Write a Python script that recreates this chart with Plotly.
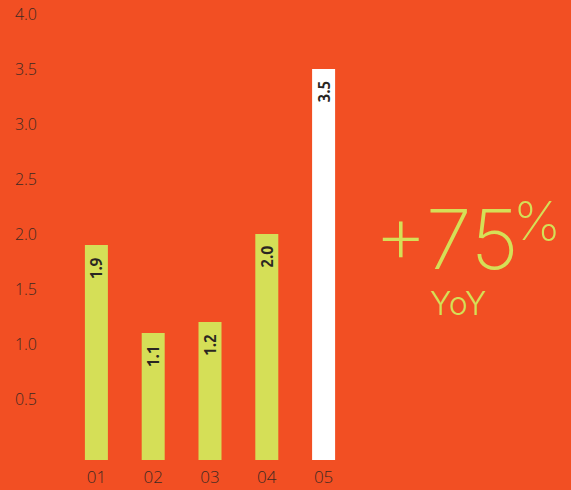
import plotly.graph_objects as go

# Data
periods = ["01", "02", "03", "04", "05"]
values = [1.9, 1.1, 1.2, 2.0, 3.5]
bar_colors = ["#D5DF57", "#D5DF57", "#D5DF57", "#D5DF57", "#FFFFFF"]
y_ticks = [0.5, 1.0, 1.5, 2.0, 2.5, 3.0, 3.5, 4.0]
y_tick_text = ["0.5", "1.0", "1.5", "2.0", "2.5", "3.0", "3.5", "4.0"]
headline = "+75"
headline_unit = "%"
headline_caption = "YoY"

BG = "#F24F23"
ACCENT = "#D5DF57"
TICK_COLOR = "#3d2a22"
LABEL_COLOR = "#2a2622"

# The value axis starts a little below zero so the bars sit on a small foot
Y_FLOOR = -0.055
Y_CEIL = 4.0

fig = go.Figure()
fig.add_trace(go.Bar(
    x=periods,
    y=[v - Y_FLOOR for v in values],
    base=Y_FLOOR,
    marker=dict(color=bar_colors, line=dict(width=0)),
    hoverinfo="skip",
))

# Rotated value labels just inside the top of each bar
# (category axis: position by category index so "01" is not read as a number)
for i, v in enumerate(values):
    fig.add_annotation(
        x=i, y=v, xref="x", yref="y",
        text=f"<b>{v:.1f}</b>",
        textangle=-90,
        showarrow=False,
        yanchor="top", xanchor="center",
        yshift=-10,
        font=dict(family="Ubuntu, 'Open Sans', sans-serif", size=16, color=LABEL_COLOR),
    )

# Headline figure to the right of the bars
fig.add_annotation(
    x=1.331, y=0.495, xref="paper", yref="paper",
    text=headline, showarrow=False, xanchor="center", yanchor="middle",
    font=dict(family="Inter", size=83, color=ACCENT, weight=200),
)
fig.add_annotation(
    x=1.651, y=0.538, xref="paper", yref="paper",
    text=headline_unit, showarrow=False, xanchor="center", yanchor="middle",
    font=dict(family="Inter", size=54, color=ACCENT, weight=200),
)
fig.add_annotation(
    x=1.373, y=0.352, xref="paper", yref="paper",
    text=headline_caption, showarrow=False, xanchor="center", yanchor="middle",
    font=dict(family="Inter", size=32, color=ACCENT, weight=300),
)

fig.update_layout(
    width=571, height=490,
    margin=dict(l=68, r=219, t=14, b=30, autoexpand=False),
    paper_bgcolor=BG, plot_bgcolor=BG,
    bargap=0.595,
    showlegend=False,
    font=dict(family="Open Sans", size=16, color=TICK_COLOR),
)
fig.update_xaxes(
    type="category",
    showgrid=False, zeroline=False, showline=False, ticks="",
    ticklabelstandoff=5,
    tickfont=dict(size=17, color=TICK_COLOR, weight=300),
)
fig.update_yaxes(
    range=[Y_FLOOR, Y_CEIL],
    tickvals=y_ticks, ticktext=y_tick_text,
    showgrid=False, zeroline=False, showline=False, ticks="",
    ticklabelstandoff=30,
    tickfont=dict(size=16, color=TICK_COLOR, weight=300),
)

fig.write_html("out.html")
